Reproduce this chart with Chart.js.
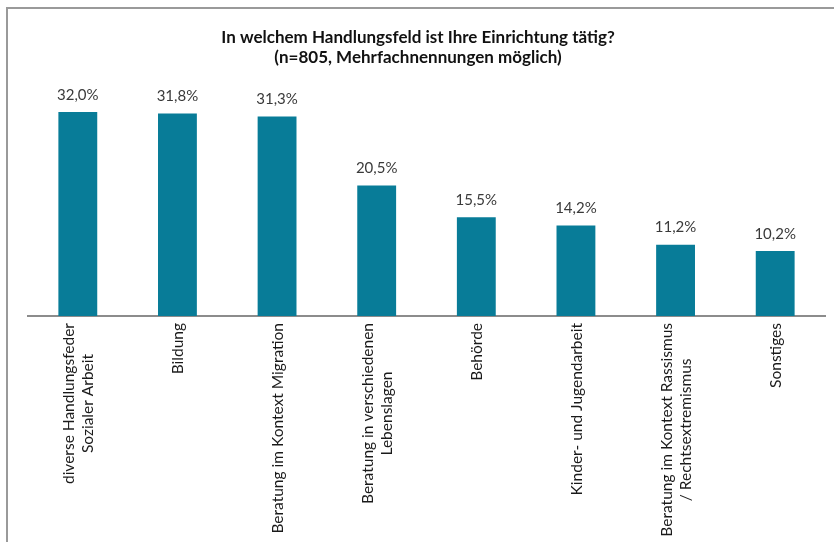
<!DOCTYPE html>
<html>
<head>
<meta charset="utf-8">
<script src="https://cdn.jsdelivr.net/npm/chart.js@4.4.0/dist/chart.umd.min.js"></script>
<style>
  html, body { margin: 0; padding: 0; background: #fff; }
  #wrap { position: relative; width: 834px; height: 542px; overflow: hidden; }
  #frame { position: absolute; left: 6px; top: 7px; width: 900px; height: 600px;
           border-top: 2px solid #9a9a9a; border-left: 2px solid #9a9a9a; }
  canvas { position: absolute; left: 0; top: 0; }
</style>
</head>
<body>
<div id="wrap">
  <div id="frame"></div>
  <canvas id="chart" width="834" height="542"></canvas>
</div>
<script>
// categories (multi-line labels as arrays)
const categories = [
  ['diverse Handlungsfeder', 'Sozialer Arbeit'],
  ['Bildung'],
  ['Beratung im Kontext Migration'],
  ['Beratung in verschiedenen', 'Lebenslagen'],
  ['Behörde'],
  ['Kinder- und Jugendarbeit'],
  ['Beratung im Kontext Rassismus', '/ Rechtsextremismus'],
  ['Sonstiges']
];
const shares = [32.0, 31.8, 31.3, 20.5, 15.5, 14.2, 11.2, 10.2];
const titleLines = [
  'In welchem Handlungsfeld ist Ihre Einrichtung tätig?',
  '(n=805, Mehrfachnennungen möglich)'
];

const FONT = 'Lato, "Open Sans", sans-serif';

// draws the title, value labels over bars and the rotated, centred category labels
const labelPlugin = {
  id: 'labelPlugin',
  afterDraw(chart) {
    const ctx = chart.ctx;
    const meta = chart.getDatasetMeta(0);
    const xScale = chart.scales.x;
    const base = chart.chartArea.bottom;

    ctx.save();
    ctx.textAlign = 'center';
    ctx.textBaseline = 'middle';

    // title, centred on the frame rather than the plot
    ctx.fillStyle = '#111';
    ctx.font = 'bold 17px ' + FONT;
    titleLines.forEach((t, i) => ctx.fillText(t, 418, 38 + i * 20));

    ctx.fillStyle = '#3a3a3a';
    ctx.font = '15px ' + FONT;
    meta.data.forEach((bar, i) => {
      ctx.fillText(shares[i].toFixed(1).replace('.', ',') + '%', bar.x, bar.y - 17);
    });

    ctx.font = '15.5px ' + FONT;
    ctx.fillStyle = '#1a1a1a';
    const lh = 19;
    categories.forEach((lines, i) => {
      const x = xScale.getPixelForValue(i);
      let w = 0;
      lines.forEach(l => { w = Math.max(w, ctx.measureText(l).width); });
      ctx.save();
      ctx.translate(x + 1, base + 7);
      ctx.rotate(-Math.PI / 2);
      lines.forEach((l, j) => {
        ctx.fillText(l, -w / 2, (j - (lines.length - 1) / 2) * lh);
      });
      ctx.restore();
    });
    ctx.restore();
  }
};

new Chart(document.getElementById('chart'), {
  type: 'bar',
  data: {
    labels: categories.map(c => c.join(' ')),
    datasets: [{
      data: shares,
      backgroundColor: '#087c98',
      barPercentage: 0.39,
      categoryPercentage: 1.0
    }]
  },
  options: {
    responsive: false,
    animation: false,
    layout: { padding: { left: 28, right: 9, top: 93, bottom: 226 } },
    plugins: {
      legend: { display: false },
      tooltip: { enabled: false },
      title: { display: false }
    },
    scales: {
      x: {
        grid: { display: false, drawTicks: false },
        ticks: { display: false },
        border: { display: true, color: '#8c8c8c', width: 2 }
      },
      y: {
        display: false,
        min: 0,
        max: 35
      }
    }
  },
  plugins: [labelPlugin]
});
</script>
</body>
</html>
